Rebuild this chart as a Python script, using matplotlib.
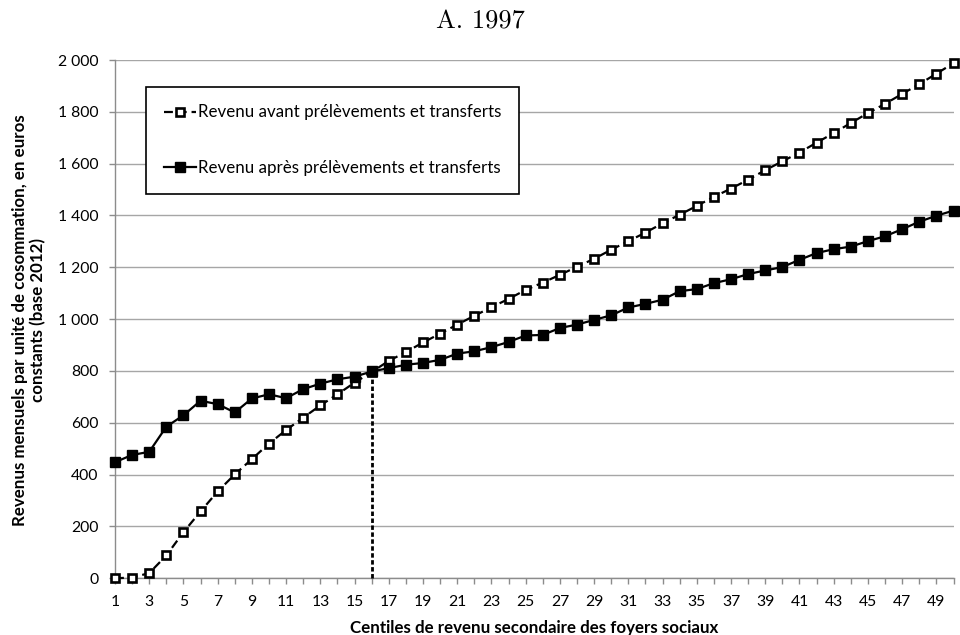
import matplotlib
matplotlib.use("Agg")
import matplotlib.pyplot as plt

# Centiles of secondary income (1..50)
centiles = list(range(1, 51))

# Monthly income per consumption unit, constant euros (base 2012)
revenu_avant = [
    0, 3, 20, 88, 178, 258, 335, 401, 460, 520,
    572, 620, 667, 710, 755, 796, 839, 873, 910, 944,
    979, 1013, 1046, 1078, 1113, 1141, 1171, 1202, 1233, 1268,
    1301, 1334, 1370, 1403, 1437, 1472, 1504, 1538, 1575, 1609,
    1643, 1681, 1718, 1757, 1795, 1831, 1869, 1907, 1947, 1988,
]
revenu_apres = [
    448, 476, 488, 585, 629, 685, 672, 640, 694, 710,
    695, 730, 751, 768, 778, 798, 811, 824, 831, 843,
    867, 876, 892, 912, 937, 939, 966, 979, 997, 1015,
    1045, 1059, 1075, 1108, 1116, 1139, 1154, 1174, 1188, 1201,
    1229, 1255, 1270, 1280, 1301, 1320, 1347, 1376, 1399, 1419,
]

# Centile at which both curves cross
centile_croisement = 16

y_ticks = [0, 200, 400, 600, 800, 1000, 1200, 1400, 1600, 1800, 2000]
y_tick_labels = ["0", "200", "400", "600", "800", "1 000", "1 200",
                 "1 400", "1 600", "1 800", "2 000"]

label_avant = "Revenu avant prélèvements et transferts"
label_apres = "Revenu après prélèvements et transferts"
titre = "A. 1997"
x_titre = "Centiles de revenu secondaire des foyers sociaux"
y_titre = ("Revenus mensuels par unité de cosommation, en euros\n"
           "constants (base 2012)")

FONT = ["Lato", "DejaVu Sans"]
GRAY = "#8c8c8c"
TICK_SIZE = 11.3
LABEL_SIZE = 12.2

fig = plt.figure(figsize=(9.6, 6.35), dpi=100)
ax = fig.add_axes([115 / 960, 1 - 578.3 / 635, (953.5 - 115) / 960, (578.3 - 60) / 635])

ax.set_xlim(1, 50)
ax.set_ylim(0, 2000)

# horizontal gridlines
ax.set_yticks(y_ticks)
ax.set_yticklabels(y_tick_labels, fontfamily=FONT, fontsize=TICK_SIZE)
ax.yaxis.grid(True, color="#a6a6a6", linewidth=1.0, zorder=0)
ax.set_axisbelow(True)

ax.set_xticks(centiles)
ax.set_xticklabels([str(c) if c % 2 == 1 else "" for c in centiles],
                   fontfamily=FONT, fontsize=TICK_SIZE)

ax.tick_params(axis="both", direction="out", length=4, width=1, color=GRAY,
               labelcolor="black")
ax.tick_params(axis="x", pad=8)
ax.tick_params(axis="y", pad=8)

for side in ("top", "right"):
    ax.spines[side].set_visible(False)
for side in ("left", "bottom"):
    ax.spines[side].set_color(GRAY)
    ax.spines[side].set_linewidth(1.0)

# crossing marker: vertical dashed line
idx = centiles.index(centile_croisement)
ax.plot([centile_croisement, centile_croisement], [0, revenu_apres[idx]],
        color="black", linewidth=2.0, linestyle=(0, (1.6, 0.9)), zorder=3,
        clip_on=False)

ax.plot(centiles, revenu_avant, color="black", linewidth=1.6,
        linestyle=(0, (4, 2.2)), marker="s", markersize=6.4,
        markerfacecolor="white", markeredgecolor="black", markeredgewidth=1.9,
        zorder=4, clip_on=False, label=label_avant)
ax.plot(centiles, revenu_apres, color="black", linewidth=1.6,
        linestyle="-", marker="s", markersize=6.8,
        markerfacecolor="black", markeredgecolor="black", markeredgewidth=1.0,
        zorder=5, clip_on=False, label=label_apres)

leg = ax.legend(loc="upper left", bbox_to_anchor=(146 / 960, 1 - 86.7 / 635),
                bbox_transform=fig.transFigure,
                prop={"family": FONT, "size": 12.2}, frameon=True,
                fancybox=False, edgecolor="black", framealpha=1.0,
                borderpad=1.05, labelspacing=2.35, handlelength=1.9,
                handletextpad=0.1, borderaxespad=0)
leg.get_frame().set_linewidth(1.2)
leg.set_zorder(10)

ax.set_xlabel(x_titre, fontfamily=FONT, fontsize=LABEL_SIZE, fontweight="bold")
ax.xaxis.label.set_va("baseline")
ax.xaxis.set_label_coords(0.5, -(633.5 - 578.3) / (578.3 - 60))

fig.text(29 / 960, 1 - 320 / 635, y_titre, rotation=90, ha="center",
         va="center", multialignment="center", fontfamily=FONT,
         fontsize=LABEL_SIZE, fontweight="bold")

fig.text(0.5, 1 - 22 / 635, titre, ha="center", va="center",
         fontfamily="cmr10", fontsize=19)

fig.savefig("out.png", dpi=100)
